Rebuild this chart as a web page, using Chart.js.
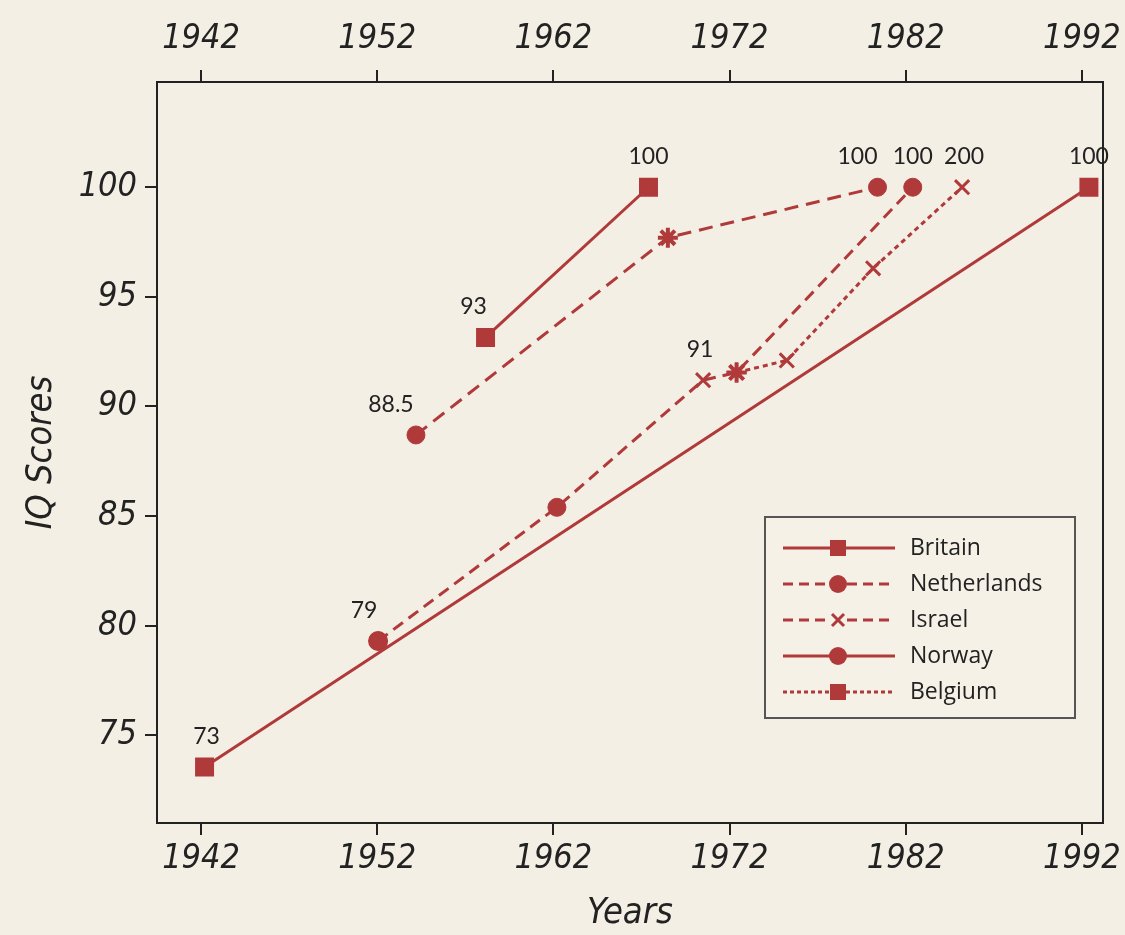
<!DOCTYPE html>
<html lang="en">
<head>
<meta charset="UTF-8">
<title>IQ Scores</title>
<script src="https://cdn.jsdelivr.net/npm/chart.js"></script>
<style>
    body {
        margin: 0;
        background: #f3efe4;
    }
    canvas {
        display: block;
    }
</style>
</head>
<body>
<canvas id="iqChart" width="1125" height="935"></canvas>
<script>
// axis ticks
const xTicks = [1942, 1952, 1962, 1972, 1982, 1992];
const yTicks = [75, 80, 85, 90, 95, 100];

// series
const britainYears = [1958.15, 1967.4];
const britainScores = [93.15, 100];
const britainLabels = ['93', '100'];

const britainLongYears = [1942.2, 1992.4];
const britainLongScores = [73.55, 100];
const britainLongLabels = ['73', '100'];

const netherlandsYears = [1954.2, 1968.5, 1980.4];
const netherlandsScores = [88.7, 97.7, 100];
const netherlandsLabels = ['88.5', '', '100'];

const israelYears = [1952.05, 1962.2, 1970.5, 1972.4, 1982.4];
const israelScores = [79.3, 85.4, 91.2, 91.55, 100];
const israelLabels = ['79', '', '91', '', '100'];

const belgiumYears = [1972.4, 1975.25, 1980.15, 1985.2];
const belgiumScores = [91.55, 92.1, 96.3, 100];
const belgiumLabels = ['', '', '', '200'];

const norwayYears = [1952.05];
const norwayScores = [79.3];

const red = '#b0393a';
const ink = '#222';

function points(xs, ys) {
    return xs.map((x, i) => ({ x: x, y: ys[i] }));
}

function series(name, xs, ys, opts) {
    return Object.assign({
        label: name,
        data: points(xs, ys),
        showLine: true,
        borderColor: red,
        backgroundColor: red,
        borderWidth: 3,
        pointBorderColor: red,
        pointBackgroundColor: red,
        pointBorderWidth: 2,
        pointRadius: 9
    }, opts);
}

const datasets = [
    series('Britain', britainYears, britainScores, {
        pointStyle: 'rect', pointRadius: 12, valueLabels: britainLabels, labelDx: [-12, 0]
    }),
    series('Britain', britainLongYears, britainLongScores, {
        pointStyle: 'rect', pointRadius: 12, valueLabels: britainLongLabels, labelDx: [2, 0]
    }),
    series('Netherlands', netherlandsYears, netherlandsScores, {
        borderDash: [14, 8],
        pointStyle: ['circle', 'star', 'circle'],
        pointRadius: [9, 10, 9],
        pointBorderWidth: [1, 4, 1],
        valueLabels: netherlandsLabels, labelDx: [-25, 0, -20]
    }),
    series('Israel', israelYears, israelScores, {
        borderDash: [12, 7],
        pointStyle: ['circle', 'circle', 'crossRot', 'star', 'circle'],
        pointRadius: [9, 9, 10, 10, 9],
        pointBorderWidth: [1, 1, 3, 4, 1],
        valueLabels: israelLabels, labelDx: [-14, 0, -3, 0, 0]
    }),
    series('Belgium', belgiumYears, belgiumScores, {
        borderDash: [5, 4],
        pointStyle: ['star', 'crossRot', 'crossRot', 'crossRot'],
        pointRadius: 10,
        pointBorderWidth: 3,
        valueLabels: belgiumLabels, labelDx: [0, 0, 0, 2]
    }),
    series('Norway', norwayYears, norwayScores, {
        pointStyle: 'circle'
    })
];

const legendItems = [
    { name: 'Britain', dash: [], marker: 'rect' },
    { name: 'Netherlands', dash: [10, 6], marker: 'circle' },
    { name: 'Israel', dash: [10, 6], marker: 'cross' },
    { name: 'Norway', dash: [], marker: 'circle' },
    { name: 'Belgium', dash: [4, 3], marker: 'rect' }
];

const tickFont = { family: "'Liberation Sans Narrow', 'DejaVu Sans Condensed', Lato, sans-serif", style: 'italic', size: 34 };
const titleFont = { family: "'Liberation Sans Narrow', 'DejaVu Sans Condensed', Lato, sans-serif", style: 'italic', size: 36 };

function fixedTicks(list) {
    return function (scale) {
        scale.ticks = list.map(v => ({ value: v }));
    };
}

// pin the axis boxes so the plot frame lands where the picture has it
function fixHeight(h) {
    return function (s) {
        s.height = h;
        s.paddingLeft = 0;
        s.paddingRight = 0;
    };
}

const grid = { drawOnChartArea: false, tickLength: 12, color: ink, lineWidth: 2 };
const border = { color: ink, width: 2 };

// value labels above the markers
const pointLabels = {
    id: 'pointLabels',
    afterDatasetsDraw(chart) {
        const ctx = chart.ctx;
        ctx.save();
        ctx.font = '23px Lato, sans-serif';
        ctx.fillStyle = ink;
        ctx.textAlign = 'center';
        ctx.textBaseline = 'bottom';
        chart.data.datasets.forEach((ds, i) => {
            if (!ds.valueLabels) return;
            const meta = chart.getDatasetMeta(i);
            ds.valueLabels.forEach((t, j) => {
                if (!t) return;
                const p = meta.data[j];
                const dx = ds.labelDx ? ds.labelDx[j] : 0;
                ctx.fillText(t, p.x + dx, p.y - 19);
            });
        });
        ctx.restore();
    }
};

// frame round the plot and the boxed legend
const frameAndLegend = {
    id: 'frameAndLegend',
    afterDraw(chart) {
        const ctx = chart.ctx;
        const a = chart.chartArea;
        ctx.save();
        ctx.strokeStyle = ink;
        ctx.lineWidth = 2;
        ctx.strokeRect(a.left, a.top, a.right - a.left, a.bottom - a.top);

        const bx = a.right - 338, by = a.bottom - 306, bw = 310, bh = 201;
        ctx.fillStyle = '#f5f1e7';
        ctx.fillRect(bx, by, bw, bh);
        ctx.strokeStyle = '#555';
        ctx.strokeRect(bx, by, bw, bh);

        legendItems.forEach((item, i) => {
            const y = by + 31 + i * 36;
            const x0 = bx + 18, x1 = bx + 130, mx = bx + 73;
            ctx.strokeStyle = red;
            ctx.fillStyle = red;
            ctx.lineWidth = 3;
            ctx.setLineDash(item.dash);
            ctx.beginPath();
            ctx.moveTo(x0, y);
            ctx.lineTo(x1, y);
            ctx.stroke();
            ctx.setLineDash([]);
            if (item.marker === 'rect') {
                ctx.fillRect(mx - 8, y - 8, 16, 16);
            } else if (item.marker === 'circle') {
                ctx.beginPath();
                ctx.arc(mx, y, 9, 0, Math.PI * 2);
                ctx.fill();
            } else {
                ctx.fillStyle = '#f5f1e7';
                ctx.fillRect(mx - 9, y - 9, 18, 18);
                ctx.beginPath();
                ctx.moveTo(mx - 6, y - 6); ctx.lineTo(mx + 6, y + 6);
                ctx.moveTo(mx + 6, y - 6); ctx.lineTo(mx - 6, y + 6);
                ctx.stroke();
            }
            ctx.fillStyle = ink;
            ctx.font = '23px "Open Sans", sans-serif';
            ctx.textAlign = 'left';
            ctx.textBaseline = 'middle';
            ctx.fillText(item.name, bx + 145, y);
        });
        ctx.restore();
    }
};

new Chart(document.getElementById('iqChart'), {
    type: 'scatter',
    data: { datasets: datasets },
    options: {
        responsive: false,
        animation: false,
        layout: { padding: { right: 22 } },
        plugins: {
            legend: { display: false },
            tooltip: { enabled: false }
        },
        scales: {
            x: {
                type: 'linear',
                position: 'bottom',
                min: 1939.5,
                max: 1993.2,
                afterBuildTicks: fixedTicks(xTicks),
                afterFit: fixHeight(112),
                ticks: { callback: v => String(v), font: tickFont, color: ink, padding: 4 },
                grid: grid,
                border: border,
                title: { display: true, text: 'Years', font: titleFont, color: ink, padding: 0 }
            },
            xTop: {
                type: 'linear',
                position: 'top',
                min: 1939.5,
                max: 1993.2,
                afterBuildTicks: fixedTicks(xTicks),
                afterFit: fixHeight(82),
                ticks: { callback: v => String(v), font: tickFont, color: ink, padding: 10 },
                grid: grid,
                border: border
            },
            y: {
                min: 71,
                max: 104.8,
                afterBuildTicks: fixedTicks(yTicks),
                afterFit: s => { s.width = 157; s.paddingTop = 0; s.paddingBottom = 0; },
                ticks: { callback: v => String(v), font: tickFont, color: ink, padding: 8 },
                grid: grid,
                border: border,
                title: { display: true, text: 'IQ Scores', font: titleFont, color: ink, padding: { top: 20, bottom: 0 } }
            }
        }
    },
    plugins: [pointLabels, frameAndLegend]
});
</script>
</body>
</html>
